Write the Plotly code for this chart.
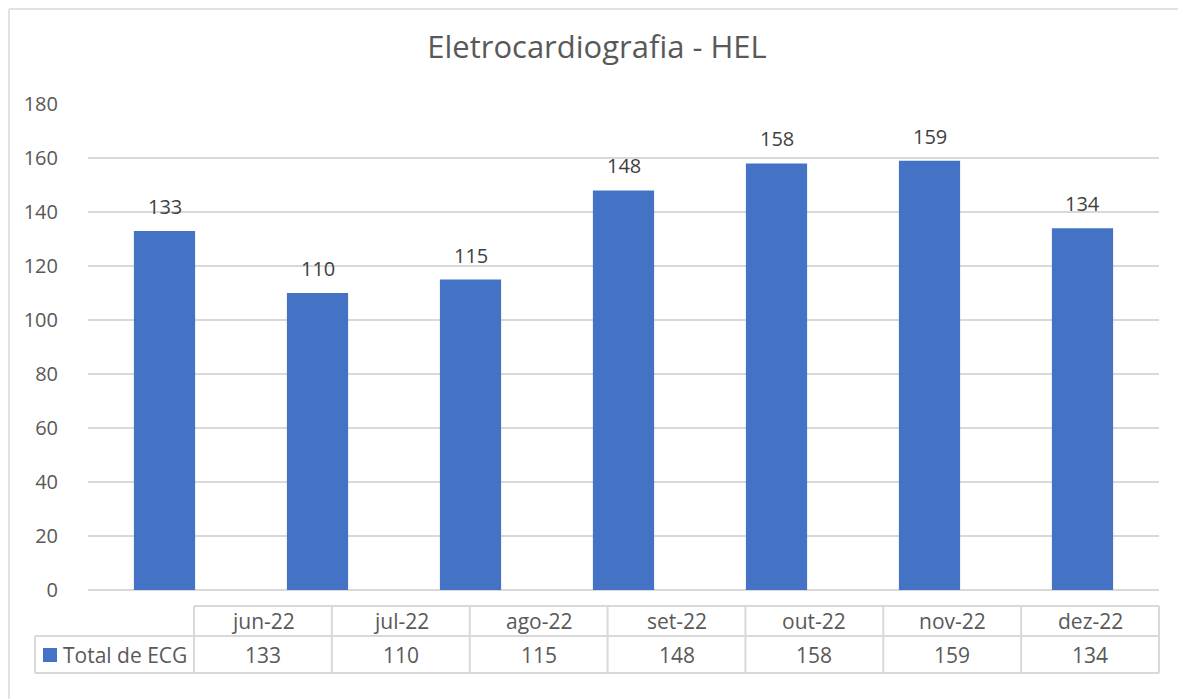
import plotly.graph_objects as go

# dados do gráfico
meses = ['jun-22', 'jul-22', 'ago-22', 'set-22', 'out-22', 'nov-22', 'dez-22']
total_ecg = [133, 110, 115, 148, 158, 159, 134]
serie_nome = 'Total de ECG'
titulo = 'Eletrocardiografia - HEL'
y_ticks = [0, 20, 40, 60, 80, 100, 120, 140, 160, 180]

OFF = 8  # margem padrao do body da pagina
W, H = 1186 - OFF, 700 - OFF
L, R, T, B = 88 - OFF, 1159 - OFF, 104 - OFF, 590 - OFF  # area do grafico em pixels

def px_x(x):
    return (x - OFF - L) / (R - L)

def px_y(y):
    return (B - (y - OFF)) / (B - T)

FONT = 'Open Sans'
GRAY = '#595959'
LINE = '#D9D9D9'
BLUE = '#4472C4'

fig = go.Figure()

fig.add_trace(go.Bar(
    x=meses,
    y=total_ecg,
    name=serie_nome,
    marker=dict(color=BLUE, line=dict(width=0)),
    width=0.4,
    showlegend=False,
))

# rotulos de dados acima das barras
annotations = []
for m, v in zip(meses, total_ecg):
    annotations.append(dict(
        x=m, y=v, text=str(v), showarrow=False,
        yanchor='bottom', yshift=9,
        font=dict(family=FONT, size=20, color='#404040'),
    ))

shapes = []
# borda externa do grafico (so topo e esquerda ficam visiveis)
border = dict(color=LINE, width=1.5)
shapes.append(dict(type='line', xref='paper', yref='paper',
                   x0=px_x(9), x1=px_x(1185), y0=px_y(9), y1=px_y(9), line=border))
shapes.append(dict(type='line', xref='paper', yref='paper',
                   x0=px_x(9), x1=px_x(9), y0=px_y(9), y1=px_y(699), line=border))

# tabela de dados
col0, col_end = 194, 1159
row_top, row_mid, row_bot = 606, 636, 673
label_left = 35
n = len(meses)
cw = (col_end - col0) / n
line_style = dict(color=LINE, width=2)

# linhas horizontais
shapes.append(dict(type='line', xref='paper', yref='paper',
                   x0=px_x(col0), x1=px_x(col_end), y0=px_y(row_top), y1=px_y(row_top), line=line_style))
shapes.append(dict(type='line', xref='paper', yref='paper',
                   x0=px_x(label_left), x1=px_x(col_end), y0=px_y(row_mid), y1=px_y(row_mid), line=line_style))
shapes.append(dict(type='line', xref='paper', yref='paper',
                   x0=px_x(label_left), x1=px_x(col_end), y0=px_y(row_bot), y1=px_y(row_bot), line=line_style))
# linhas verticais
shapes.append(dict(type='line', xref='paper', yref='paper',
                   x0=px_x(label_left), x1=px_x(label_left), y0=px_y(row_mid), y1=px_y(row_bot), line=line_style))
for i in range(n + 1):
    xx = col0 + i * cw
    shapes.append(dict(type='line', xref='paper', yref='paper',
                       x0=px_x(xx), x1=px_x(xx), y0=px_y(row_top), y1=px_y(row_bot), line=line_style))

for i, (m, v) in enumerate(zip(meses, total_ecg)):
    cx = col0 + (i + 0.5) * cw
    annotations.append(dict(
        x=px_x(cx), y=px_y((row_top + row_mid) / 2), xref='paper', yref='paper',
        text=m, showarrow=False, xanchor='center', yanchor='middle',
        font=dict(family=FONT, size=21, color=GRAY)))
    annotations.append(dict(
        x=px_x(cx), y=px_y((row_mid + row_bot) / 2), xref='paper', yref='paper',
        text=str(v), showarrow=False, xanchor='center', yanchor='middle',
        font=dict(family=FONT, size=21, color=GRAY)))

# chave da legenda
shapes.append(dict(type='rect', xref='paper', yref='paper',
                   x0=px_x(43), x1=px_x(57), y0=px_y(662), y1=px_y(648),
                   fillcolor=BLUE, line=dict(width=0)))
annotations.append(dict(
    x=px_x(61), y=px_y((row_mid + row_bot) / 2), xref='paper', yref='paper',
    text=serie_nome, showarrow=False, xanchor='left', yanchor='middle',
    font=dict(family=FONT, size=21, color=GRAY)))

fig.update_layout(
    width=W, height=H,
    margin=dict(l=L, r=W - R, t=T, b=H - B, pad=0),
    paper_bgcolor='white',
    plot_bgcolor='white',
    title=dict(text=titulo, x=px_x(597), xref='paper', xanchor='center',
               y=1 - (47 - OFF) / H, yanchor='middle',
               font=dict(family=FONT, size=31, color=GRAY)),
    bargap=0.6,
    shapes=shapes,
    annotations=annotations,
    showlegend=False,
)

fig.update_xaxes(showticklabels=False, showgrid=False, ticks='', showline=False)
fig.update_yaxes(
    range=[0, 180], tickvals=y_ticks,
    showgrid=True, gridcolor=LINE, gridwidth=1.5,
    zeroline=True, zerolinecolor=LINE, zerolinewidth=1.5,
    showline=False, ticks='',
    ticklabelstandoff=29,
    tickfont=dict(family=FONT, size=20, color=GRAY),
)

fig.write_html("out.html")
